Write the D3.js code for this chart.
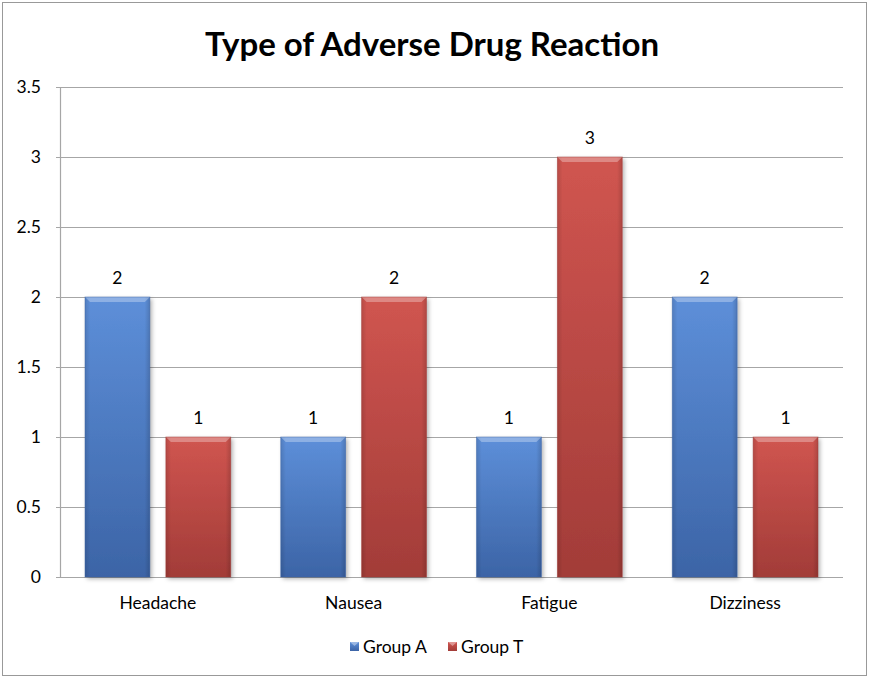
<!DOCTYPE html>
<html>
<head>
<meta charset="utf-8">
<script src="https://cdn.jsdelivr.net/npm/d3@7"></script>
<style>
  body { margin: 0; background: #fff; }
  text { font-family: Lato, "Open Sans", sans-serif; fill: #000; }
</style>
</head>
<body>
<svg id="chart" width="870" height="678"></svg>
<script>
const categories = ["Headache", "Nausea", "Fatigue", "Dizziness"];
const groups = ["Group A", "Group T"];
const groupA = [2, 1, 1, 2];
const groupT = [1, 2, 3, 1];
const yTicks = [0, 0.5, 1, 1.5, 2, 2.5, 3, 3.5];
const colors = {"Group A": ["#5d8fd9", "#3c64a6"], "Group T": ["#d05550", "#a23c38"]};

const svg = d3.select("#chart");
const margin = {left: 60, right: 843, top: 87, bottom: 577};
const fs = "17.5px";

// outer frame
svg.append("rect").attr("x", 2.5).attr("y", 2.5).attr("width", 864).attr("height", 673)
  .attr("fill", "#fff").attr("stroke", "#999").attr("stroke-width", 1);

svg.append("text").attr("x", 432).attr("y", 56).attr("text-anchor", "middle")
  .style("font-size", "33px").style("font-weight", "bold")
  .text("Type of Adverse Drug Reaction");

const y = d3.scaleLinear().domain([0, 3.5]).range([margin.bottom, margin.top]);
const x0 = d3.scaleBand().domain(categories).range([margin.left, margin.right]);
const x1 = d3.scaleBand().domain(groups).range([25, x0.bandwidth() - 25]).paddingInner(16 / 81);

const defs = svg.append("defs");
groups.forEach((g, i) => {
  const grad = defs.append("linearGradient").attr("id", "grad" + i)
    .attr("x1", 0).attr("y1", 0).attr("x2", 0).attr("y2", 1);
  grad.append("stop").attr("offset", "0%").attr("stop-color", colors[g][0]);
  grad.append("stop").attr("offset", "100%").attr("stop-color", colors[g][1]);
  const side = defs.append("linearGradient").attr("id", "side" + i)
    .attr("x1", 0).attr("y1", 0).attr("x2", 1).attr("y2", 0);
  side.append("stop").attr("offset", "0%").attr("stop-color", "#000").attr("stop-opacity", 0.12);
  side.append("stop").attr("offset", "8%").attr("stop-color", "#000").attr("stop-opacity", 0);
  side.append("stop").attr("offset", "92%").attr("stop-color", "#000").attr("stop-opacity", 0);
  side.append("stop").attr("offset", "100%").attr("stop-color", "#000").attr("stop-opacity", 0.15);
});
const shadow = defs.append("filter").attr("id", "shadow").attr("x", "-20%").attr("y", "-10%").attr("width", "140%").attr("height", "130%");
shadow.append("feDropShadow").attr("dx", 2).attr("dy", 2).attr("stdDeviation", 2).attr("flood-opacity", 0.3);

// grid
svg.append("g").selectAll("line").data(yTicks).join("line")
  .attr("x1", margin.left - 4).attr("x2", margin.right)
  .attr("y1", d => Math.round(y(d)) + 0.5).attr("y2", d => Math.round(y(d)) + 0.5)
  .attr("stroke", "#a6a6a6").attr("stroke-width", 1.2);

svg.append("line").attr("x1", margin.left + 0.5).attr("x2", margin.left + 0.5)
  .attr("y1", margin.top).attr("y2", margin.bottom + 0.5)
  .attr("stroke", "#a6a6a6").attr("stroke-width", 1.2);

// y axis labels
const yAxis = d3.axisLeft(y).tickValues(yTicks).tickSize(0).tickPadding(19)
  .tickFormat(d => d3.format("")(d));
const ya = svg.append("g").attr("transform", `translate(${margin.left},0)`).call(yAxis);
ya.select(".domain").remove();
ya.selectAll("text").style("font-size", fs).style("font-family", "Lato, 'Open Sans', sans-serif");

// x labels
const xAxis = d3.axisBottom(x0).tickSize(0).tickPadding(20);
const xa = svg.append("g").attr("transform", `translate(0,${margin.bottom})`).call(xAxis);
xa.select(".domain").remove();
xa.selectAll("text").style("font-size", fs).style("font-family", "Lato, 'Open Sans', sans-serif");

// bars
const rows = categories.map((c, i) => ({cat: c, vals: [{g: groups[0], v: groupA[i], k: 0}, {g: groups[1], v: groupT[i], k: 1}]}));
const cg = svg.append("g").selectAll("g").data(rows).join("g")
  .attr("transform", d => `translate(${x0(d.cat)},0)`);
const bar = cg.selectAll("g").data(d => d.vals).join("g");
bar.append("rect")
  .attr("x", d => x1(d.g)).attr("y", d => y(d.v))
  .attr("width", x1.bandwidth()).attr("height", d => y(0) - y(d.v))
  .attr("fill", d => `url(#grad${d.k})`).attr("filter", "url(#shadow)");
bar.append("rect")
  .attr("x", d => x1(d.g)).attr("y", d => y(d.v))
  .attr("width", x1.bandwidth()).attr("height", d => y(0) - y(d.v))
  .attr("fill", d => `url(#side${d.k})`);
// top bevel
bar.append("path")
  .attr("d", d => {
    const x = x1(d.g), w = x1.bandwidth(), t = y(d.v);
    return `M${x},${t}L${x + w},${t}L${x + w - 5},${t + 5}L${x + 5},${t + 5}Z`;
  })
  .attr("fill", "#fff").attr("fill-opacity", 0.3);
bar.append("rect")
  .attr("x", d => x1(d.g)).attr("y", d => y(d.v))
  .attr("width", x1.bandwidth()).attr("height", d => y(0) - y(d.v))
  .attr("fill", "none").attr("stroke", d => colors[d.g][1]).attr("stroke-opacity", 0.6).attr("stroke-width", 0.8);
bar.append("text")
  .attr("x", d => x1(d.g) + x1.bandwidth() / 2).attr("y", d => y(d.v) - 13)
  .attr("text-anchor", "middle").style("font-size", fs)
  .text(d => d.v);

// legend
const legend = svg.append("g");
const lx = [350, 448];
groups.forEach((g, i) => {
  legend.append("rect").attr("x", lx[i]).attr("y", 642).attr("width", 9).attr("height", 9)
    .attr("fill", `url(#grad${i})`);
  legend.append("path").attr("d", `M${lx[i]},642L${lx[i] + 9},642L${lx[i] + 4.5},646Z`)
    .attr("fill", "#fff").attr("fill-opacity", 0.4);
  legend.append("text").attr("x", lx[i] + 13).attr("y", 653).style("font-size", fs).text(g);
});
</script>
</body>
</html>
